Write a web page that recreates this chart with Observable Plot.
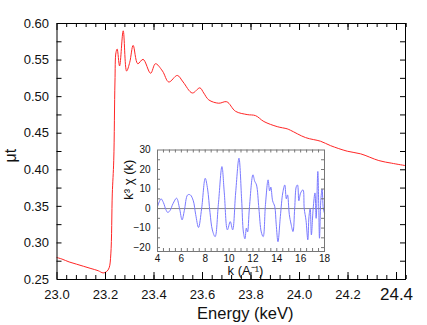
<!DOCTYPE html>
<html><head><meta charset="utf-8">
<script src="https://cdn.jsdelivr.net/npm/d3@7"></script>
<script src="https://cdn.jsdelivr.net/npm/@observablehq/plot@0.6"></script>
<style>
body{margin:0;background:#fff;}
#wrap{position:relative;width:427px;height:325px;overflow:hidden;background:#fff;}
</style></head><body><div id="wrap"></div>
<script>
// Main XANES spectrum: energy (keV) vs mu*t
const energy = [23.000,23.020,23.050,23.080,23.110,23.140,23.170,23.190,23.205,23.215,23.222,23.228,23.234,23.239,23.243,23.248,23.258,23.273,23.287,23.300,23.314,23.333,23.355,23.386,23.406,23.435,23.461,23.496,23.520,23.558,23.589,23.605,23.626,23.667,23.700,23.736,23.784,23.819,23.853,23.908,23.949,23.963,24.025,24.087,24.128,24.197,24.252,24.327,24.380,24.437];
const mu =     [0.280,0.278,0.274,0.271,0.268,0.265,0.262,0.259,0.261,0.266,0.285,0.367,0.413,0.520,0.560,0.565,0.542,0.590,0.535,0.547,0.570,0.545,0.551,0.532,0.545,0.535,0.520,0.529,0.520,0.505,0.512,0.505,0.4955,0.491,0.493,0.480,0.4755,0.474,0.466,0.459,0.456,0.454,0.444,0.439,0.433,0.4254,0.4218,0.4126,0.409,0.4057];

// Inset EXAFS: k vs k^3 chi(k)
const kValues = [4.0,4.15,4.3,4.5,4.7,4.86,5.05,5.3,5.6,5.85,6.06,6.25,6.53,6.75,7.0,7.2,7.44,7.7,8.0,8.2,8.4,8.6,8.83,9.1,9.4,9.6,9.86,10.1,10.3,10.55,10.83,11.05,11.2,11.33,11.45,11.55,11.7,12.0,12.15,12.3,12.5,12.7,12.86,13.05,13.27,13.4,13.5,13.65,13.83,13.95,14.1,14.3,14.5,14.67,14.8,14.9,15.05,15.2,15.36,15.5,15.64,15.74,15.85,16.0,16.2,16.3,16.45,16.6,16.7,16.8,16.9,17.05,17.2,17.3,17.44,17.52,17.58,17.7,17.8,17.9,18.0];
const k3chi =   [1,3.5,5,3,-0.5,-2,-1,2.5,5.3,0,-5.8,-1,7,7,4,-3,-9.7,0,15.5,10,-2,-11,-14.4,2,21.5,8,-10.9,-6.7,-10.9,8,25.8,5,-12,-15.5,-10,-12,0,17.3,14,12.1,0,-12,-14.4,2,14.7,9,11,4,1,-8,-17,-4,8,12.1,5,7,-3,-8,-11.8,0,11.3,12.1,4,8,9.6,0,-6,-16,-4,0,-13.5,0,8,-5,19,0,-15.2,5,10,0,-2.4];

// Tick labels
const xTicks = [23.0,23.2,23.4,23.6,23.8,24.0,24.2];
const xTickBig = [24.4];
const yTicks = [0.25,0.30,0.35,0.40,0.45,0.50,0.55,0.60];
const kTicks = [4,6,8,10,12,14,16,18];
const chiTicks = [-20,-10,0,10,20,30];

const font = "'Liberation Sans', Arial, sans-serif";
const mainData = energy.map((e,i)=>({e, m: mu[i]}));
const insetData = kValues.map((k,i)=>({k, c: k3chi[i]}));

const xDom = [23.0, 24.437], yDom = [0.25, 0.60];
const mW = 427 - 56.5 - 22, mH = 325 - 23 - 46;
const xMinor = d3.range(23.04, 24.44, 0.04);
const yMinor = d3.range(0.275, 0.6, 0.025);
const xMajor = xTicks.concat(xTickBig);

const mainPlot = Plot.plot({
  width: 427, height: 325,
  marginLeft: 56.5, marginRight: 22, marginTop: 23, marginBottom: 46,
  style: {fontFamily: font, background: "transparent", color: "#000", position: "absolute", left: "0px", top: "0px", overflow: "visible"},
  x: {domain: xDom},
  y: {domain: yDom},
  marks: [
    Plot.line(mainData, {x: "e", y: "m", stroke: "#ff2626", strokeWidth: 1, curve: "catmull-rom"}),
    Plot.tickX(xMinor, {x: d => d, insetTop: mH - 4, stroke: "#000"}),
    Plot.tickX(xMinor, {x: d => d, insetBottom: mH - 4, stroke: "#000"}),
    Plot.tickX(xMajor, {x: d => d, insetTop: mH - 7, stroke: "#000"}),
    Plot.tickX(xMajor, {x: d => d, insetBottom: mH - 7, stroke: "#000"}),
    Plot.tickY(yMinor, {y: d => d, insetRight: mW - 5, stroke: "#000"}),
    Plot.tickY(yMinor, {y: d => d, insetLeft: mW - 5, stroke: "#000"}),
    Plot.frame({stroke: "#000"}),
    Plot.axisX(xTicks, {anchor: "bottom", tickSize: 0, tickPadding: 10, fontSize: 13, fill: "#111", tickFormat: d3.format(".1f"), label: null}),
    Plot.axisX(xTickBig, {anchor: "bottom", tickSize: 0, tickPadding: 8, fontSize: 17, fill: "#111", tickFormat: d3.format(".1f"), label: null}),
    Plot.axisY(yTicks, {anchor: "left", tickSize: 0, tickPadding: 8, fontSize: 13, fill: "#111", tickFormat: d3.format(".2f"), label: null}),
    Plot.text(["Energy (keV)"], {frameAnchor: "bottom", dx: 14, dy: 39, fontSize: 16.5, fill: "#111"}),
    Plot.text(["μt"], {frameAnchor: "left", dx: -46.5, dy: 11, rotate: -90, fontSize: 16, fill: "#111"})
  ]
});

const kDom = [4, 18], cDom = [-22, 30];
const iW = 230 - 47 - 16, iH = 145 - 9.5 - 34;
const kMinor = d3.range(4.5, 18, 0.5);
const cMinor = d3.range(-20, 30, 5);

const insetPlot = Plot.plot({
  width: 230, height: 145,
  marginLeft: 47, marginRight: 16, marginTop: 9.5, marginBottom: 34,
  style: {fontFamily: font, background: "transparent", color: "#555", position: "absolute", left: "110px", top: "140px", overflow: "visible"},
  x: {domain: kDom},
  y: {domain: cDom},
  marks: [
    Plot.ruleY([0], {stroke: "#888", strokeWidth: 1}),
    Plot.line(insetData, {x: "k", y: "c", stroke: "#7a7aff", strokeWidth: 1, curve: "catmull-rom"}),
    Plot.tickX(kMinor, {x: d => d, insetTop: iH - 3, stroke: "#777"}),
    Plot.tickX(kMinor, {x: d => d, insetBottom: iH - 3, stroke: "#777"}),
    Plot.tickY(cMinor, {y: d => d, insetRight: iW - 3, stroke: "#777"}),
    Plot.tickY(cMinor, {y: d => d, insetLeft: iW - 3, stroke: "#777"}),
    Plot.frame({stroke: "#777"}),
    Plot.axisX(kTicks, {anchor: "bottom", tickSize: 0, tickPadding: 3, fontSize: 10, fill: "#111", label: null}),
    Plot.axisY(chiTicks, {anchor: "left", tickSize: 0, tickPadding: 7, fontSize: 10, fill: "#111", label: null}),
    Plot.text(["k (A⁻¹)"], {frameAnchor: "bottom", dx: 4.5, dy: 23, fontSize: 13, fill: "#111"}),
    Plot.text(["k³ χ (k)"], {frameAnchor: "left", dx: -29, dy: -1, rotate: -90, fontSize: 13, fill: "#111"})
  ]
});

const wrap = document.getElementById("wrap");
wrap.appendChild(mainPlot);
wrap.appendChild(insetPlot);
</script>
</body></html>
